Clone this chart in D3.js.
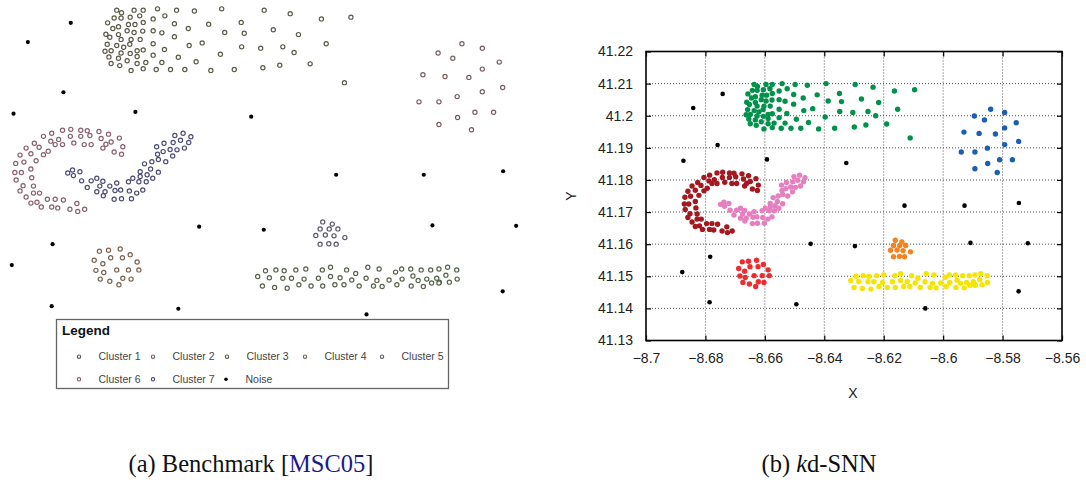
<!DOCTYPE html>
<html>
<head>
<meta charset="utf-8">
<script src="https://cdn.jsdelivr.net/npm/d3@7"></script>
<style>
  body { margin: 0; background: #fff; }
</style>
</head>
<body>
<svg id="chart" width="1086" height="483"></svg>
<script>
// ---- data: [longitude, latitude] per point ----
var cluster1 = [
    [-8.6636,41.2097],[-8.6625,41.2091],[-8.6596,41.2097],[-8.6575,41.2097],[-8.6542,41.2100],[-8.6498,41.2097],
    [-8.6457,41.2095],[-8.6394,41.2100],[-8.6296,41.2097],[-8.6236,41.2089],[-8.6164,41.2077],[-8.6096,41.2081],
    [-8.6642,41.2079],[-8.6626,41.2079],[-8.6605,41.2081],[-8.6583,41.2084],[-8.6552,41.2077],[-8.6525,41.2084],
    [-8.6657,41.2068],[-8.6645,41.2055],[-8.6632,41.2059],[-8.6609,41.2064],[-8.6594,41.2064],[-8.6575,41.2069],
    [-8.6503,41.2066],[-8.6424,41.2065],[-8.6349,41.2069],[-8.6471,41.2055],[-8.6612,41.2050],[-8.6596,41.2046],
    [-8.6576,41.2049],[-8.6552,41.2050],[-8.6532,41.2045],[-8.6387,41.2046],[-8.6342,41.2044],[-8.6275,41.2052],
    [-8.6217,41.2041],[-8.6661,41.2042],[-8.6652,41.2035],[-8.6632,41.2041],[-8.6626,41.2030],[-8.6603,41.2030],
    [-8.6582,41.2030],[-8.6503,41.2036],[-8.6658,41.2019],[-8.6636,41.2016],[-8.6620,41.2012],[-8.6606,41.2019],
    [-8.6552,41.2020],[-8.6439,41.2022],[-8.6469,41.2016],[-8.6348,41.2013],[-8.6304,41.2010],[-8.6253,41.2013],
    [-8.6153,41.2020],[-8.6663,41.2003],[-8.6649,41.2004],[-8.6626,41.1999],[-8.6605,41.1998],[-8.6589,41.2004],
    [-8.6575,41.2006],[-8.6526,41.2007],[-8.6227,41.2000],[-8.6654,41.1990],[-8.6632,41.1987],[-8.6589,41.1991],
    [-8.6552,41.1994],[-8.6494,41.1989],[-8.6397,41.1996],[-8.6649,41.1975],[-8.6629,41.1970],[-8.6612,41.1981],
    [-8.6589,41.1975],[-8.6569,41.1977],[-8.6532,41.1977],[-8.6453,41.1979],[-8.6603,41.1959],[-8.6575,41.1963],
    [-8.6545,41.1961],[-8.6512,41.1961],[-8.6479,41.1961],[-8.6419,41.1959],[-8.6365,41.1961],[-8.6299,41.1965],
    [-8.6260,41.1971],[-8.6190,41.1974],[-8.6111,41.1931]
];
var cluster2 = [
    [-8.5840,41.2020],[-8.5793,41.2010],[-8.5895,41.1999],[-8.5861,41.1987],[-8.5754,41.1978],[-8.5793,41.1962],
    [-8.5930,41.1949],[-8.5879,41.1945],[-8.5824,41.1943],[-8.5746,41.1920],[-8.5793,41.1910],[-8.5851,41.1899],
    [-8.5939,41.1887],[-8.5893,41.1887],[-8.5810,41.1863],[-8.5767,41.1863],[-8.5850,41.1851],[-8.5893,41.1835],
    [-8.5818,41.1823]
];
var cluster3 = [
    [-8.6293,41.1500],[-8.6269,41.1502],[-8.6250,41.1500],[-8.6223,41.1502],[-8.6200,41.1504],[-8.6162,41.1502],
    [-8.6143,41.1508],[-8.6106,41.1502],[-8.6057,41.1508],[-8.6031,41.1504],[-8.5993,41.1497],[-8.5979,41.1504],
    [-8.5958,41.1504],[-8.5934,41.1502],[-8.5912,41.1502],[-8.5893,41.1504],[-8.5873,41.1508],[-8.5852,41.1502],
    [-8.6311,41.1487],[-8.6284,41.1484],[-8.6253,41.1483],[-8.6233,41.1483],[-8.6204,41.1481],[-8.6171,41.1483],
    [-8.6143,41.1487],[-8.6121,41.1484],[-8.6085,41.1494],[-8.6094,41.1479],[-8.6061,41.1483],[-8.6036,41.1478],
    [-8.6008,41.1479],[-8.5978,41.1481],[-8.5953,41.1488],[-8.5941,41.1478],[-8.5921,41.1481],[-8.5898,41.1483],
    [-8.5877,41.1490],[-8.5892,41.1474],[-8.5851,41.1481],
    [-8.6300,41.1465],[-8.6272,41.1462],[-8.6243,41.1460],[-8.6216,41.1468],[-8.6188,41.1465],[-8.6161,41.1465],
    [-8.6133,41.1468],[-8.6112,41.1468],[-8.6077,41.1465],[-8.6044,41.1465],[-8.6024,41.1464],[-8.5990,41.1468],
    [-8.5957,41.1465],[-8.5929,41.1464],[-8.5910,41.1472],[-8.5893,41.1472],[-8.5869,41.1474]
];
var cluster4 = [
    [-8.6676,41.1545],[-8.6655,41.1547],[-8.6628,41.1550],[-8.6605,41.1537],[-8.6650,41.1530],[-8.6623,41.1530],
    [-8.6688,41.1524],[-8.6668,41.1516],[-8.6589,41.1520],[-8.6684,41.1501],[-8.6666,41.1496],[-8.6636,41.1502],
    [-8.6609,41.1502],[-8.6585,41.1502],[-8.6674,41.1481],[-8.6652,41.1476],[-8.6622,41.1483],[-8.6603,41.1481],
    [-8.6631,41.1468]
];
var cluster5 = [
    [-8.6161,41.1612],[-8.6139,41.1607],[-8.6167,41.1596],[-8.6146,41.1596],[-8.6126,41.1596],[-8.6177,41.1581],
    [-8.6155,41.1582],[-8.6135,41.1580],[-8.6110,41.1576],[-8.6167,41.1561],[-8.6147,41.1562],[-8.6130,41.1561]
];
var cluster6 = [
    [-8.6805,41.1808],[-8.6786,41.1815],[-8.6761,41.1822],[-8.6742,41.1824],[-8.6719,41.1822],[-8.6704,41.1821],
    [-8.6677,41.1819],[-8.6655,41.1813],[-8.6630,41.1804],[-8.6826,41.1792],[-8.6788,41.1797],[-8.6770,41.1801],
    [-8.6743,41.1808],[-8.6719,41.1808],[-8.6698,41.1810],[-8.6672,41.1803],[-8.6649,41.1795],[-8.6661,41.1790],
    [-8.6622,41.1784],[-8.6845,41.1781],[-8.6815,41.1783],[-8.6794,41.1774],[-8.6805,41.1766],[-8.6778,41.1789],
    [-8.6761,41.1789],[-8.6735,41.1793],[-8.6711,41.1789],[-8.6695,41.1789],[-8.6668,41.1781],[-8.6859,41.1765],
    [-8.6834,41.1768],[-8.6642,41.1772],[-8.6625,41.1767],[-8.6869,41.1746],[-8.6850,41.1749],[-8.6822,41.1752],
    [-8.6871,41.1725],[-8.6856,41.1725],[-8.6834,41.1733],[-8.6868,41.1708],[-8.6832,41.1713],[-8.6852,41.1695],
    [-8.6828,41.1694],[-8.6859,41.1683],[-8.6828,41.1678],[-8.6814,41.1678],[-8.6845,41.1669],[-8.6796,41.1664],
    [-8.6778,41.1664],[-8.6759,41.1662],[-8.6728,41.1654],[-8.6834,41.1655],[-8.6820,41.1657],[-8.6810,41.1646],
    [-8.6786,41.1646],[-8.6772,41.1644],[-8.6744,41.1641],[-8.6726,41.1636],[-8.6710,41.1641]
];
var cluster7 = [
    [-8.6502,41.1810],[-8.6483,41.1815],[-8.6465,41.1807],[-8.6544,41.1784],[-8.6527,41.1792],[-8.6506,41.1794],
    [-8.6489,41.1799],[-8.6470,41.1794],[-8.6542,41.1767],[-8.6529,41.1773],[-8.6513,41.1778],[-8.6497,41.1777],
    [-8.6480,41.1781],[-8.6540,41.1755],[-8.6523,41.1750],[-8.6507,41.1763],[-8.6572,41.1745],[-8.6555,41.1750],
    [-8.6582,41.1727],[-8.6558,41.1733],[-8.6540,41.1726],[-8.6599,41.1712],[-8.6582,41.1716],[-8.6566,41.1720],
    [-8.6553,41.1712],[-8.6609,41.1704],[-8.6585,41.1704],[-8.6568,41.1704],[-8.6749,41.1724],[-8.6738,41.1731],
    [-8.6721,41.1727],[-8.6736,41.1718],[-8.6717,41.1706],[-8.6695,41.1706],[-8.6682,41.1712],[-8.6668,41.1705],
    [-8.6652,41.1694],[-8.6636,41.1701],[-8.6704,41.1691],[-8.6675,41.1694],[-8.6682,41.1681],[-8.6663,41.1681],
    [-8.6667,41.1672],[-8.6640,41.1684],[-8.6627,41.1685],[-8.6607,41.1683],[-8.6590,41.1678],[-8.6576,41.1685],
    [-8.6642,41.1664],[-8.6625,41.1665],[-8.6602,41.1665]
];
var noise = [
    [-8.6742,41.2068],[-8.6841,41.2024],[-8.6759,41.1909],[-8.6874,41.1860],[-8.6593,41.1864],[-8.6326,41.1853],
    [-8.6130,41.1720],[-8.5928,41.1720],[-8.5745,41.1728],[-8.6446,41.1601],[-8.6297,41.1594],[-8.5908,41.1604],
    [-8.5715,41.1603],[-8.6784,41.1561],[-8.6878,41.1513],[-8.5746,41.1453],[-8.6786,41.1419],[-8.6494,41.1413],
    [-8.6060,41.1400]
];

var clusterNames = ["Cluster 1", "Cluster 2", "Cluster 3", "Cluster 4", "Cluster 5", "Cluster 6", "Cluster 7"];
var clusterPoints = [cluster1, cluster2, cluster3, cluster4, cluster5, cluster6, cluster7];
var benchColors = ["#5c5a48", "#7a5f5f", "#56644a", "#7a6350", "#5a5a6c", "#8a5f70", "#4c4c78"];
var kdColors = ["#00924b", "#1c5eb1", "#f5e500", "#ee2b2e", "#f58220", "#a3191f", "#e57fbf"];

var xTicks = [-8.7, -8.68, -8.66, -8.64, -8.62, -8.6, -8.58, -8.56];
var xTickLabels = ["\u22128.7", "\u22128.68", "\u22128.66", "\u22128.64", "\u22128.62", "\u22128.6", "\u22128.58", "\u22128.56"];
var yTicks = [41.13, 41.14, 41.15, 41.16, 41.17, 41.18, 41.19, 41.2, 41.21, 41.22];
var yTickLabels = ["41.13", "41.14", "41.15", "41.16", "41.17", "41.18", "41.19", "41.2", "41.21", "41.22"];

var svg = d3.select("#chart");
svg.append("rect").attr("width", 1086).attr("height", 483).attr("fill", "#fff");

// ---------- (a) benchmark panel ----------
var xL = d3.scaleLinear().domain([-8.7, -8.56]).range([-41.1, 566]);
var yL = d3.scaleLinear().domain([41.22, 41.13]).range([-34.8, 358.1]);

var left = svg.append("g");
clusterPoints.forEach(function (pts, i) {
    left.selectAll(".c" + i)
        .data(pts)
        .enter()
        .append("circle")
        .attr("cx", function (d) { return xL(d[0]); })
        .attr("cy", function (d) { return yL(d[1]); })
        .attr("r", 2.1)
        .attr("fill", "#fff")
        .attr("stroke", benchColors[i])
        .attr("stroke-width", 1.2);
});
left.selectAll(".noise")
    .data(noise)
    .enter()
    .append("circle")
    .attr("cx", function (d) { return xL(d[0]); })
    .attr("cy", function (d) { return yL(d[1]); })
    .attr("r", 2.1)
    .attr("fill", "#000");

// legend box
var lg = svg.append("g").attr("font-family", "Liberation Sans, Arial, sans-serif");
lg.append("rect")
    .attr("x", 56.5).attr("y", 319.5).attr("width", 392).attr("height", 69)
    .attr("fill", "#fff").attr("stroke", "#666").attr("stroke-width", 1.3);
lg.append("text").attr("x", 62).attr("y", 335)
    .attr("font-size", 13.5).attr("font-weight", "bold").attr("fill", "#111").text("Legend");

var legendItems = clusterNames.map(function (n, i) { return { name: n, color: benchColors[i], noise: false }; });
legendItems.push({ name: "Noise", color: "#000", noise: true });
var legendPos = [[79, 356.7], [153, 356.7], [227, 356.7], [305, 356.7], [382, 356.7], [79, 379.3], [153, 379.3], [226, 379.3]];
legendItems.forEach(function (item, i) {
    var p = legendPos[i];
    lg.append("circle")
        .attr("cx", p[0]).attr("cy", p[1]).attr("r", item.noise ? 1.8 : 1.7)
        .attr("fill", item.noise ? "#000" : "#fff")
        .attr("stroke", item.color).attr("stroke-width", item.noise ? 0 : 1.1);
    lg.append("text")
        .attr("x", p[0] + 19.5).attr("y", p[1] + 3.6)
        .attr("font-size", 10.5).attr("fill", "#444").text(item.name);
});

// ---------- (b) kd-SNN panel ----------
var x0 = 646, x1 = 1062, yTop = 51.5, yBot = 340.5;
var xR = d3.scaleLinear().domain([-8.7, -8.56]).range([x0, x1]);
var yR = d3.scaleLinear().domain([41.13, 41.22]).range([yBot, yTop]);

var right = svg.append("g");

// dotted grid
right.selectAll(".vgrid")
    .data(xTicks.slice(1, -1))
    .enter()
    .append("line")
    .attr("x1", function (d) { return xR(d); }).attr("x2", function (d) { return xR(d); })
    .attr("y1", yTop).attr("y2", yBot)
    .attr("stroke", "#555").attr("stroke-width", 1).attr("stroke-dasharray", "1,2");
right.selectAll(".hgrid")
    .data(yTicks.slice(1, -1))
    .enter()
    .append("line")
    .attr("y1", function (d) { return yR(d); }).attr("y2", function (d) { return yR(d); })
    .attr("x1", x0).attr("x2", x1)
    .attr("stroke", "#555").attr("stroke-width", 1).attr("stroke-dasharray", "1,2");

// axes
var fmtX = function (d, i) { return xTickLabels[i]; };
var fmtY = function (d, i) { return yTickLabels[i]; };
var axB = right.append("g").attr("transform", "translate(0," + yBot + ")")
    .call(d3.axisBottom(xR).tickValues(xTicks).tickFormat(fmtX).tickSizeInner(-5).tickSizeOuter(0).tickPadding(13));
var axL = right.append("g").attr("transform", "translate(" + x0 + ",0)")
    .call(d3.axisLeft(yR).tickValues(yTicks).tickFormat(fmtY).tickSizeInner(-5).tickSizeOuter(0).tickPadding(13));
var axT = right.append("g").attr("transform", "translate(0," + yTop + ")")
    .call(d3.axisTop(xR).tickValues(xTicks).tickFormat("").tickSizeInner(-5).tickSizeOuter(0));
var axR = right.append("g").attr("transform", "translate(" + x1 + ",0)")
    .call(d3.axisRight(yR).tickValues(yTicks).tickFormat("").tickSizeInner(-5).tickSizeOuter(0));
[axB, axL, axT, axR].forEach(function (a) {
    a.select(".domain").remove();
    a.selectAll("line").attr("stroke", "#000").attr("stroke-width", 1.2);
    a.attr("font-family", "Liberation Sans, Arial, sans-serif").attr("font-size", 14);
    a.selectAll("text").attr("fill", "#222");
});

// points
clusterPoints.forEach(function (pts, i) {
    right.selectAll(".k" + i)
        .data(pts)
        .enter()
        .append("circle")
        .attr("cx", function (d) { return xR(d[0]); })
        .attr("cy", function (d) { return yR(d[1]); })
        .attr("r", 2.7)
        .attr("fill", kdColors[i]);
});
right.selectAll(".knoise")
    .data(noise)
    .enter()
    .append("circle")
    .attr("cx", function (d) { return xR(d[0]); })
    .attr("cy", function (d) { return yR(d[1]); })
    .attr("r", 2.3)
    .attr("fill", "#000");

// frame
right.append("rect")
    .attr("x", x0).attr("y", yTop).attr("width", x1 - x0).attr("height", yBot - yTop)
    .attr("fill", "none").attr("stroke", "#000").attr("stroke-width", 1.6);

// axis titles
right.append("text").attr("x", 853).attr("y", 398).attr("text-anchor", "middle")
    .attr("font-family", "Liberation Sans, Arial, sans-serif").attr("font-size", 14).attr("fill", "#222").text("X");
right.append("text").attr("transform", "translate(576,196) rotate(-90)").attr("text-anchor", "middle")
    .attr("font-family", "Liberation Sans, Arial, sans-serif").attr("font-size", 14).attr("fill", "#222").text("Y");

// ---------- captions ----------
var cap = svg.append("g").attr("font-family", "Liberation Serif, Times New Roman, serif").attr("font-size", 24.5).attr("fill", "#111");
var capA = cap.append("text").attr("x", 251).attr("y", 472).attr("text-anchor", "middle");
capA.append("tspan").text("(a) Benchmark [");
capA.append("tspan").attr("fill", "#1b1b8a").text("MSC05");
capA.append("tspan").text("]");
var capB = cap.append("text").attr("x", 819).attr("y", 472).attr("text-anchor", "middle");
capB.append("tspan").text("(b) ");
capB.append("tspan").attr("font-style", "italic").text("k");
capB.append("tspan").text("d-SNN");
</script>
</body>
</html>
